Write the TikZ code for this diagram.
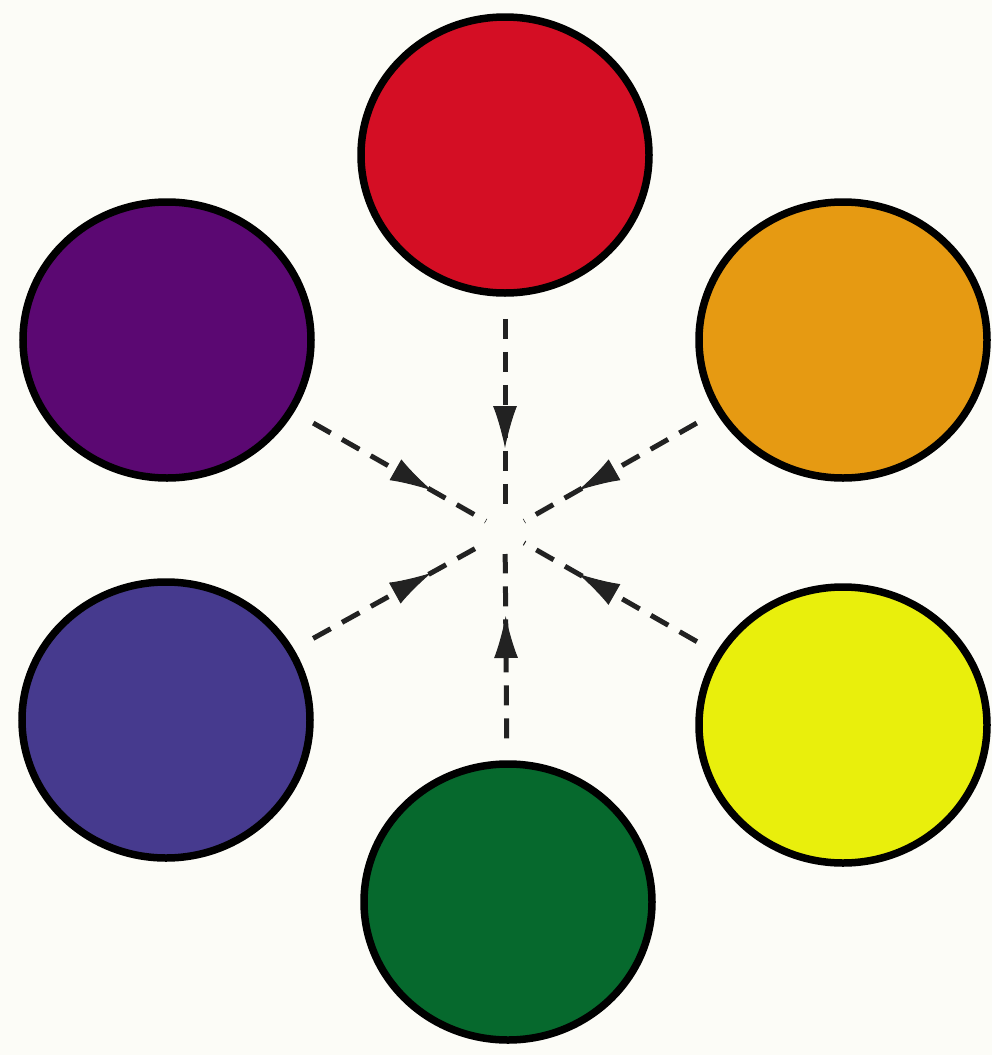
\documentclass[tikz,border=0pt]{standalone}
\usetikzlibrary{shapes.geometric,arrows.meta,calc}
\definecolor{bgc}{HTML}{FCFCF7}
\definecolor{cred}{HTML}{D40E24}
\definecolor{cpurple}{HTML}{5B0872}
\definecolor{corange}{HTML}{E69A12}
\definecolor{cblue}{HTML}{463A8E}
\definecolor{cyellow}{HTML}{E9EF0C}
\definecolor{cgreen}{HTML}{06692D}
\definecolor{lineclr}{HTML}{222222}
\tikzset{
  disc/.style={ellipse, draw=black, line width=7.5pt, minimum width=288pt, minimum height=276pt, inner sep=0pt},
  conn/.style={draw=lineclr, line width=5pt, dash pattern=on 20pt off 13pt,
    shorten <=22pt, shorten >=22pt},
  tipstyle/.style={draw=lineclr, fill=lineclr, line width=1pt, solid,
    -{Latex[length=42pt,width=24pt]}}
}
\begin{document}
\begin{tikzpicture}[x=1pt,y=-1pt]
\fill[bgc] (0,0) rectangle (992,1055);
\useasboundingbox (0,0) rectangle (992,1055);
\coordinate (c) at (505,532);
\node[disc, fill=cred]    (red)    at (505,155) {};
\node[disc, fill=cpurple] (purple) at (167,340) {};
\node[disc, fill=corange] (orange) at (843,340) {};
\node[disc, fill=cblue]   (blue)   at (166,720) {};
\node[disc, fill=cyellow] (yellow) at (843,725) {};
\node[disc, fill=cgreen]  (green)  at (508,902) {};
\foreach \n in {red,purple,orange,blue,yellow,green}{
  \draw[conn] (\n) -- (c);
  \coordinate (t-\n) at ($(c)!84pt!(\n)$);
  \coordinate (s-\n) at ($(c)!90pt!(\n)$);
  \draw[tipstyle] (s-\n) -- (t-\n);
}
\end{tikzpicture}
\end{document}
